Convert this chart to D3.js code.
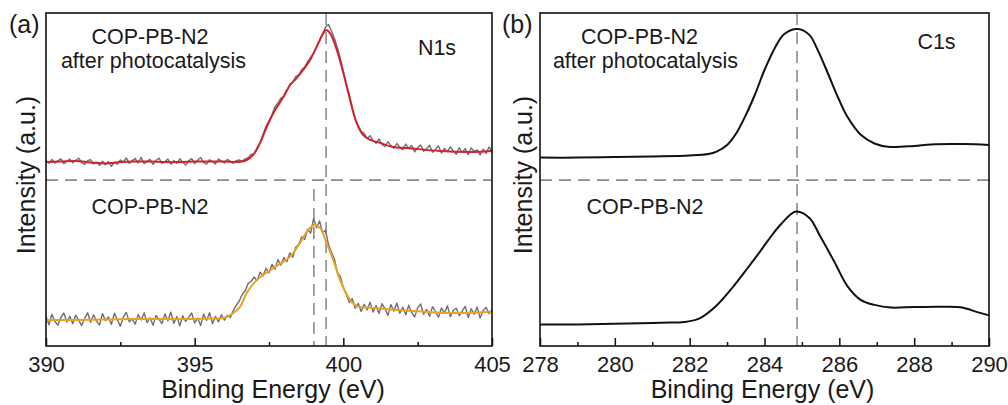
<!DOCTYPE html>
<html>
<head>
<meta charset="utf-8">
<script src="https://cdn.jsdelivr.net/npm/d3@7"></script>
<style>
  html, body { margin: 0; background: #fff; }
  svg { display: block; }
  text { font-family: "Liberation Sans", Arial, Helvetica, sans-serif; fill: #1a1a1a; }
</style>
</head>
<body>
<svg id="chart" width="1008" height="405"></svg>
<script>
// ---------- N1s spectra (binding energy in eV, intensity in a.u.) ----------
// Raw scans, sampled every 0.1 eV from 390.0 eV
const n1sRawStart = 390.0, n1sRawStep = 0.1;
const n1sAfterRaw = [
  61.8, 60.9, 62.2, 61.0, 61.7, 62.4, 60.8, 61.5, 62.3, 61.1,
  61.9, 62.6, 61.2, 60.5, 61.8, 62.1, 60.7, 61.3, 60.2, 61.6,
  60.4, 61.5, 59.9, 61.2, 60.6, 62.0, 61.3, 62.7, 60.9, 61.8,
  62.5, 61.0, 62.9, 60.8, 61.6, 62.2, 60.5, 61.9, 62.6, 60.9,
  61.4, 62.3, 60.6, 61.8, 60.9, 62.4, 61.2, 60.3, 61.7, 62.5,
  60.8, 61.9, 62.8, 61.1, 60.6, 62.1, 61.4, 60.7, 62.3, 61.6,
  61.0, 62.2, 61.5, 60.9, 61.8, 62.0, 61.6, 62.4, 62.8, 63.9,
  64.2, 66.0, 67.8, 70.5, 73.2, 75.1, 77.0, 79.8, 80.9, 82.6,
  83.1, 85.0, 87.2, 88.0, 89.9, 90.4, 92.1, 93.0, 94.8, 96.2,
  97.5, 99.6, 101.8, 104.0, 106.3, 107.2, 105.0, 102.6, 99.4, 95.9,
  91.5, 87.4, 83.8, 79.0, 75.6, 73.5, 71.6, 70.9, 69.2, 70.1,
  68.4, 67.6, 69.0, 67.2, 66.5, 68.1, 66.8, 65.9, 67.5, 66.2,
  65.4, 67.3, 65.9, 66.8, 64.7, 66.2, 67.0, 64.9, 65.8, 66.9,
  64.6, 65.5, 66.7, 64.3, 65.9, 64.8, 66.4, 65.0, 63.9, 66.1,
  64.5, 65.8, 63.8, 66.0, 64.9, 65.4, 63.7, 65.6, 64.2, 66.3,
  65.0
];
const n1sBeforeRaw = [
  9.8, 7.1, 10.6, 8.2, 6.9, 9.5, 11.0, 8.0, 9.9, 7.4,
  10.3, 8.6, 6.8, 9.2, 11.1, 7.9, 10.4, 8.3, 7.0, 10.8,
  8.5, 9.7, 7.2, 10.9, 8.8, 6.6, 9.6, 11.2, 8.1, 9.0,
  7.3, 10.5, 8.7, 11.0, 7.8, 9.4, 6.9, 10.2, 8.9, 7.5,
  10.7, 8.4, 11.3, 7.6, 9.8, 6.7, 10.1, 8.2, 9.6, 11.0,
  7.7, 9.3, 6.8, 10.6, 8.5, 11.1, 7.4, 9.9, 8.0, 10.4,
  8.6, 10.2, 9.5, 11.8, 13.6, 15.0, 17.2, 18.4, 20.9, 21.5,
  23.0, 21.8, 24.6, 23.3, 25.9, 24.4, 27.2, 25.6, 28.8, 26.9,
  29.5, 28.1, 31.0, 29.6, 32.9, 33.8, 36.4, 35.5, 38.9, 37.6,
  42.5, 39.4, 41.7, 37.8, 38.6, 33.9, 31.2, 29.0, 24.5, 23.1,
  19.4, 17.2, 14.5, 15.8, 12.6, 14.2, 11.5, 13.9, 12.0, 14.6,
  11.3, 13.5, 10.8, 14.1, 12.4, 10.2, 13.8, 11.6, 14.3, 10.9,
  12.9, 10.4, 13.6, 11.1, 9.7, 12.8, 14.0, 10.6, 12.2, 9.9,
  13.1, 11.5, 9.6, 12.7, 10.9, 13.4, 9.8, 11.9, 12.6, 10.1,
  11.7, 13.2, 9.5, 12.4, 10.6, 13.0, 9.3, 11.8, 12.9, 10.8,
  12.1
];
// Smoothed fits [eV, a.u.]
const n1sAfterFit = [
  [390, 61.3], [390.5, 61.5], [391, 61.7], [391.5, 61.2], [392, 60.8], [392.5, 61.3],
  [393, 61.5], [393.5, 61.5], [394, 61.3], [394.5, 61.3], [395, 61.5], [395.5, 61.5],
  [396, 61.5], [396.53, 61.4], [396.75, 62.0], [396.97, 63.7], [397.2, 67.7], [397.42, 73.0],
  [397.65, 77.7], [397.98, 83.0], [398.21, 87.0], [398.43, 89.3], [398.65, 92.0], [398.88, 95.3],
  [399.1, 99.7], [399.33, 104.3], [399.42, 105.3], [399.55, 104.3], [399.78, 98.7], [400.0, 91.0],
  [400.23, 82.0], [400.45, 74.3], [400.67, 70.3], [400.9, 68.7], [401.23, 67.7], [401.68, 66.3],
  [402.13, 66.0], [403.25, 65.0], [404.37, 64.7], [405, 65.0]
];
const n1sBeforeFit = [
  [390, 8.7], [391, 8.7], [392, 8.8], [393, 9.0], [394, 9.0], [395, 9.0], [395.5, 9.2],
  [395.96, 9.3], [396.3, 11.0], [396.53, 13.1], [396.75, 17.7], [397.09, 22.0], [397.65, 26.0],
  [398.2, 29.7], [398.54, 34.3], [398.77, 38.0], [399.01, 40.3], [399.22, 39.3], [399.44, 34.3],
  [399.66, 28.7], [399.89, 22.0], [400.23, 15.3], [400.45, 13.3], [401, 12.7], [402.13, 11.8],
  [403.25, 11.1], [404.37, 11.1], [405, 11.4]
];

// ---------- C1s spectra [eV, a.u.] ----------
const c1sAfter = [
  [278, 62.8], [279, 62.8], [280, 63.0], [281, 63.2], [282, 63.5], [282.5, 64.0], [282.72, 64.8],
  [283.0, 67.0], [283.25, 71.0], [283.52, 77.5], [283.75, 84.0], [284.0, 92.0], [284.27, 99.2],
  [284.53, 104.0], [284.89, 105.7], [285.2, 103.7], [285.42, 98.7], [285.69, 91.0], [285.96, 83.0],
  [286.22, 76.3], [286.58, 70.3], [286.94, 67.5], [287.3, 66.4], [288.0, 66.7], [288.45, 67.2],
  [289.35, 67.3], [290, 67.0]
];
const c1sBefore = [
  [278, 7.2], [279, 7.2], [280, 7.4], [281, 7.7], [281.5, 7.8], [281.92, 8.1], [282.28, 9.3],
  [282.72, 13.5], [283.16, 19.7], [283.55, 26.0], [283.84, 30.8], [284.1, 35.3], [284.44, 40.6],
  [284.84, 44.8], [285.2, 42.7], [285.5, 36.3], [285.87, 28.0], [286.22, 19.9], [286.58, 15.3],
  [286.94, 13.7], [287.38, 12.8], [288.0, 13.0], [288.72, 13.1], [289.25, 12.9], [289.71, 11.2],
  [290, 10.2]
];

// ---------- Axes, reference lines ----------
const n1sDomain = [390, 405], c1sDomain = [278, 290];
const n1sMajorTicks = [390, 395, 400, 405], n1sMinorTicks = [392.5, 397.5, 402.5];
const c1sMajorTicks = [278, 280, 282, 284, 286, 288, 290], c1sMinorTicks = [279, 281, 283, 285, 287, 289];
const intensityDomain = [0, 111];
const separatorLevel = 55.3;               // divides the two stacked spectra
const n1sPeakAfter = 399.42, n1sPeakBefore = 399.01, c1sPeak = 284.87;

const svg = d3.select("#chart");
const plotTop = 13, plotBottom = 346;
const y = d3.scaleLinear().domain(intensityDomain).range([plotBottom, plotTop]);
const dashColor = "#8c8c8c";

function rawPoints(values) {
  return values.map((v, i) => [n1sRawStart + i * n1sRawStep, v]);
}

function addText(g, opts) {
  return g.append("text")
    .attr("x", opts.x).attr("y", opts.y)
    .attr("text-anchor", opts.anchor || "middle")
    .style("font-size", opts.size + "px")
    .text(opts.text);
}

function drawPanel(p) {
  const g = svg.append("g");
  const x = d3.scaleLinear().domain(p.domain).range([p.left, p.right]);

  // dashed guides
  g.append("line")
    .attr("x1", p.left).attr("x2", p.right)
    .attr("y1", y(separatorLevel)).attr("y2", y(separatorLevel))
    .attr("stroke", dashColor).attr("stroke-width", 1.6).attr("stroke-dasharray", "12,7");
  p.guides.forEach(gd => {
    g.append("line")
      .attr("x1", x(gd.e)).attr("x2", x(gd.e))
      .attr("y1", y(gd.top)).attr("y2", y(gd.bottom))
      .attr("stroke", dashColor).attr("stroke-width", 1.6).attr("stroke-dasharray", "12,7");
  });

  // spectra
  const rawLine = d3.line().x(d => x(d[0])).y(d => y(d[1])).curve(d3.curveLinear);
  const fitLine = d3.line().x(d => x(d[0])).y(d => y(d[1])).curve(d3.curveCatmullRom.alpha(0.5));
  p.series.forEach(s => {
    g.append("path")
      .datum(s.data)
      .attr("fill", "none")
      .attr("stroke", s.color)
      .attr("stroke-width", s.width)
      .attr("stroke-linejoin", "round")
      .attr("d", s.raw ? rawLine : fitLine);
  });

  // bottom axis: inward ticks
  const major = g.append("g")
    .attr("transform", `translate(0,${plotBottom})`)
    .call(d3.axisBottom(x).tickValues(p.major).tickSize(-8).tickFormat(d3.format("d")));
  major.attr("font-size", null).attr("font-family", null);
  major.select(".domain").remove();
  major.selectAll(".tick line").attr("stroke", "#111").attr("stroke-width", 1.5);
  major.selectAll(".tick text").attr("y", 26).attr("dy", null).style("font-size", "22px");

  const minor = g.append("g")
    .attr("transform", `translate(0,${plotBottom})`)
    .call(d3.axisBottom(x).tickValues(p.minor).tickSize(-4).tickFormat(""));
  minor.select(".domain").remove();
  minor.selectAll(".tick line").attr("stroke", "#111").attr("stroke-width", 1.5);

  // frame
  g.append("rect")
    .attr("x", p.left).attr("y", plotTop)
    .attr("width", p.right - p.left).attr("height", plotBottom - plotTop)
    .attr("fill", "none").attr("stroke", "#111").attr("stroke-width", 1.6);

  // axis titles
  addText(g, { text: "Binding Energy (eV)", x: p.titleX, y: 398, size: 25 });
  addText(g, { text: "Intensity (a.u.)", x: 0, y: 0, size: 25 })
    .attr("x", null).attr("y", null)
    .attr("transform", `translate(${p.yTitleX},175) rotate(-90)`);

  // panel letter and annotations
  addText(g, { text: p.letter, x: p.letterX, y: 33, size: 25, anchor: "start" });
  p.notes.forEach(n => addText(g, n));
}

drawPanel({
  domain: n1sDomain, left: 46, right: 492,
  major: n1sMajorTicks, minor: n1sMinorTicks,
  guides: [
    { e: n1sPeakAfter, top: intensityDomain[1], bottom: 0 },
    { e: n1sPeakBefore, top: 52.3, bottom: 0 }
  ],
  series: [
    { data: rawPoints(n1sAfterRaw), color: "#6f6f6f", width: 1.4, raw: true },
    { data: rawPoints(n1sBeforeRaw), color: "#6f6f6f", width: 1.4, raw: true },
    { data: n1sAfterFit, color: "#d3212d", width: 2 },
    { data: n1sBeforeFit, color: "#eba125", width: 2 }
  ],
  titleX: 273, yTitleX: 35, letter: "(a)", letterX: 9,
  notes: [
    { text: "COP-PB-N2", x: 150, y: 44, size: 21.5 },
    { text: "after photocatalysis", x: 153.5, y: 68, size: 21.5 },
    { text: "N1s", x: 437, y: 55, size: 21.5 },
    { text: "COP-PB-N2", x: 150, y: 214, size: 21.5 }
  ]
});

drawPanel({
  domain: c1sDomain, left: 540, right: 989,
  major: c1sMajorTicks, minor: c1sMinorTicks,
  guides: [
    { e: c1sPeak, top: intensityDomain[1], bottom: 0 }
  ],
  series: [
    { data: c1sAfter, color: "#111", width: 2 },
    { data: c1sBefore, color: "#111", width: 2 }
  ],
  titleX: 762.5, yTitleX: 532, letter: "(b)", letterX: 502,
  notes: [
    { text: "COP-PB-N2", x: 639.5, y: 44, size: 21.5 },
    { text: "after photocatalysis", x: 645.5, y: 68, size: 21.5 },
    { text: "C1s", x: 936.5, y: 49, size: 21.5 },
    { text: "COP-PB-N2", x: 645, y: 214, size: 21.5 }
  ]
});
</script>
</body>
</html>
